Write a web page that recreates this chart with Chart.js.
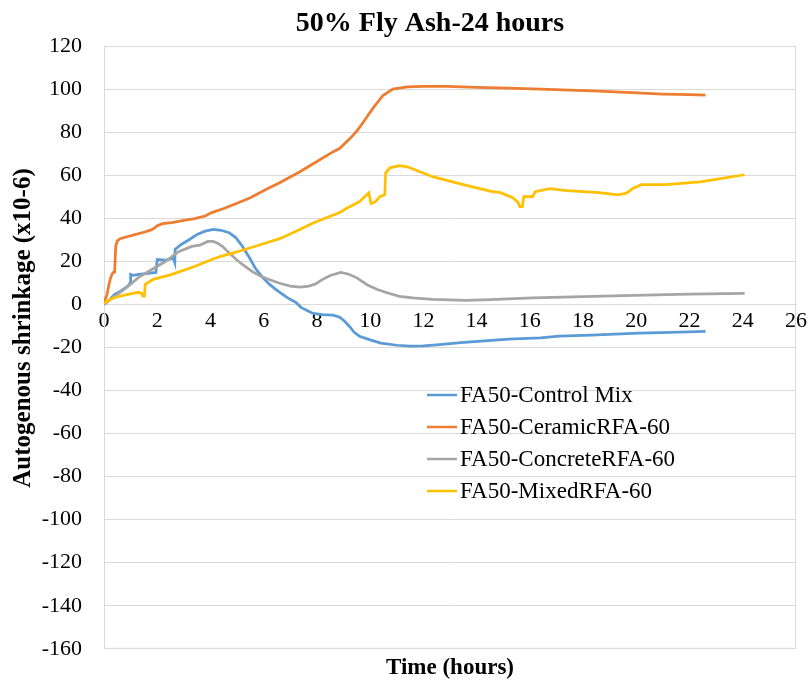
<!DOCTYPE html>
<html>
<head>
<meta charset="utf-8">
<script src="https://cdn.jsdelivr.net/npm/chart.js@4.4.1/dist/chart.umd.min.js"></script>
<style>
  html, body { margin: 0; padding: 0; background: #fff; }
  #wrap { width: 811px; height: 684px; }
</style>
</head>
<body>
<div id="wrap"><canvas id="chart"></canvas></div>
<script>
const seriesNames = ['FA50-Control Mix', 'FA50-CeramicRFA-60', 'FA50-ConcreteRFA-60', 'FA50-MixedRFA-60'];
const seriesColors = ['#5B9BD5', '#ED7D31', '#A5A5A5', '#FFC000'];

// time (hours) and shrinkage (x10-6)
const controlTime = [0, 0.2, 0.4, 0.6, 0.9, 1.0, 1.0, 1.1, 1.3, 1.65, 1.95, 2.0, 2.3, 2.6, 2.66, 2.67, 2.9, 3.2, 3.5, 3.8, 4.1, 4.4, 4.7, 4.95, 5.2, 5.45, 5.7, 6.0, 6.2, 6.5, 6.9, 7.2, 7.4, 7.65, 7.85, 8.2, 8.6, 8.86, 9.05, 9.24, 9.4, 9.6, 10.0, 10.4, 11.0, 11.5, 12.0, 12.5, 13.4, 14.3, 15.2, 16.4, 17.1, 18.3, 19.2, 20.1, 21.3, 22.6];
const controlVal = [0, 2, 4.6, 6, 8.5, 10.2, 13.9, 13.5, 13.9, 14.4, 14.8, 20.8, 20.5, 21.5, 19.4, 25.5, 27.8, 30, 32.5, 34, 34.8, 34.4, 33.3, 31, 27, 22, 16.5, 12, 9.5, 6.5, 3, 1, -1.4, -3, -4.2, -4.8, -5, -6, -8, -10.5, -13, -14.8, -16.5, -18, -19, -19.4, -19.3, -18.8, -17.8, -17, -16.2, -15.6, -14.8, -14.3, -13.8, -13.4, -13, -12.5];

const ceramicTime = [0, 0.1, 0.23, 0.3, 0.36, 0.4, 0.44, 0.5, 0.6, 0.9, 1.16, 1.5, 1.8, 1.9, 2.0, 2.2, 2.55, 3.0, 3.4, 3.8, 4.05, 4.5, 5.0, 5.5, 6.1, 6.6, 7.36, 7.86, 8.6, 8.86, 9.24, 9.5, 9.8, 10.1, 10.48, 10.85, 11.4, 12.0, 12.9, 14.0, 15.2, 16.4, 17.5, 18.6, 20.0, 21.0, 22.0, 22.6];
const ceramicVal = [1, 4, 11.6, 14, 15, 15, 27, 29.5, 30.5, 31.5, 32.4, 33.5, 34.7, 35.5, 36.5, 37.5, 38, 39, 39.8, 41, 42.6, 44.5, 47, 49.5, 53.5, 56.5, 61.6, 65.3, 70.8, 72.5, 77, 80.5, 85.6, 91, 97, 100, 101, 101.2, 101.2, 100.8, 100.4, 100, 99.5, 99, 98.2, 97.7, 97.4, 97.2];

const concreteTime = [0, 0.4, 0.9, 1.3, 1.8, 2.3, 2.8, 3.3, 3.6, 3.9, 4.1, 4.25, 4.45, 4.65, 5.0, 5.3, 5.6, 5.9, 6.2, 6.6, 7.0, 7.36, 7.7, 7.95, 8.2, 8.5, 8.9, 9.2, 9.5, 9.9, 10.25, 10.6, 11.1, 11.6, 12.35, 13.6, 14.5, 16.1, 18.0, 19.9, 22.0, 24.07];
const concreteVal = [0, 3.7, 8.3, 12.5, 16.2, 19.9, 24.5, 26.9, 27.5, 29.2, 29.2, 28.5, 27, 24.5, 20.5, 17.6, 15, 13, 11.5, 9.8, 8.5, 8, 8.5, 9.5, 11.5, 13.4, 14.8, 14, 12.3, 9, 7, 5.5, 3.7, 3.0, 2.3, 1.9, 2.2, 3.0, 3.6, 4.2, 4.7, 5.1];

const mixedTime = [0, 0.2, 0.4, 0.9, 1.3, 1.42, 1.46, 1.52, 1.55, 1.85, 2.55, 3.4, 4.05, 4.36, 4.9, 5.1, 5.9, 6.6, 7.2, 7.9, 8.86, 9.1, 9.6, 9.88, 9.95, 10.03, 10.2, 10.36, 10.55, 10.58, 10.74, 11.1, 11.4, 11.87, 12.35, 12.6, 13.5, 14.5, 14.9, 15.36, 15.55, 15.62, 15.72, 15.77, 16.1, 16.2, 16.75, 17.4, 18.6, 19.3, 19.6, 19.7, 19.9, 20.2, 21.1, 22.4, 24.07];
const mixedVal = [0.5, 2, 3.2, 4.6, 5.6, 5, 3.8, 3.8, 9.3, 11.6, 13.9, 17.6, 20.8, 22.2, 24, 24.8, 27.8, 30.5, 33.8, 38, 42.6, 44.5, 47.7, 51, 51.8, 46.8, 47.7, 50, 50.9, 61, 63.4, 64.4, 63.9, 61.6, 59.3, 58.5, 55.6, 52.6, 51.9, 49.5, 47.5, 45.4, 45.4, 50, 50, 52.3, 53.7, 52.8, 51.9, 50.9, 51.5, 52.3, 54.1, 55.6, 55.6, 56.9, 60.2];

const xTicks = { min: 0, max: 26, step: 2 };
const yTicks = { min: -160, max: 120, step: 20 };

const seriesTimes = [controlTime, ceramicTime, concreteTime, mixedTime];
const seriesVals = [controlVal, ceramicVal, concreteVal, mixedVal];

const FONT = "'Liberation Serif', 'Times New Roman', serif";
const GRID = '#D9D9D9';

function toPoints(t, v) {
  return t.map((x, i) => ({ x: x, y: v[i] }));
}

// frame round the plot, like the Excel plot area border
const framePlugin = {
  id: 'frame',
  beforeDatasetsDraw(chart) {
    const { ctx, chartArea: a } = chart;
    ctx.save();
    ctx.strokeStyle = GRID;
    ctx.lineWidth = 1;
    ctx.strokeRect(a.left + 0.5, a.top + 0.5, a.right - a.left - 1, a.bottom - a.top - 1);
    ctx.restore();
  }
};

// title, axis titles and the in-plot legend
const textPlugin = {
  id: 'texts',
  afterDraw(chart) {
    const { ctx, chartArea: a } = chart;
    ctx.save();
    ctx.fillStyle = '#000';

    ctx.font = 'bold 28px ' + FONT;
    ctx.textAlign = 'center';
    ctx.textBaseline = 'middle';
    ctx.fillText('50% Fly Ash-24 hours', 430, 24);

    ctx.font = 'bold 23px ' + FONT;
    ctx.fillText('Time (hours)', (a.left + a.right) / 2, 668);

    ctx.font = 'bold 25px ' + FONT;
    ctx.translate(24, 328);
    ctx.rotate(-Math.PI / 2);
    ctx.fillText('Autogenous shrinkage (x10-6)', 0, 0);
    ctx.setTransform(1, 0, 0, 1, 0, 0);

    ctx.font = '23px ' + FONT;
    ctx.textAlign = 'left';
    chart.data.datasets.forEach((ds, i) => {
      const y = 395 + i * 32;
      ctx.strokeStyle = ds.borderColor;
      ctx.lineWidth = 2.5;
      ctx.beginPath();
      ctx.moveTo(427, y);
      ctx.lineTo(457, y);
      ctx.stroke();
      ctx.fillText(ds.label, 460, y + 1);
    });
    ctx.restore();
  }
};

const ctx = document.getElementById('chart').getContext('2d');

new Chart(ctx, {
  type: 'line',
  data: {
    datasets: seriesNames.map((name, i) => ({
      label: name,
      data: toPoints(seriesTimes[i], seriesVals[i]),
      borderColor: seriesColors[i],
      backgroundColor: seriesColors[i],
      borderWidth: 2.75,
      pointRadius: 0,
      tension: 0,
      fill: false,
      order: seriesNames.length - i,
    }))
  },
  options: {
    responsive: true,
    maintainAspectRatio: false,
    animation: false,
    layout: { padding: { top: 46, right: 14, bottom: 33, left: 0 } },
    scales: {
      x: {
        type: 'linear',
        position: { y: 0 },
        min: xTicks.min,
        max: xTicks.max,
        grid: { display: false, drawTicks: false },
        border: { display: true, color: GRID, width: 1 },
        ticks: {
          stepSize: xTicks.step,
          padding: 4,
          color: '#000',
          maxRotation: 0,
          font: { family: FONT, size: 22 },
        },
      },
      y: {
        min: yTicks.min,
        max: yTicks.max,
        grid: { color: GRID, drawTicks: false },
        border: { display: true, color: GRID },
        ticks: {
          stepSize: yTicks.step,
          padding: 22,
          color: '#000',
          font: { family: FONT, size: 22 },
        },
        afterFit(scale) { scale.width = 104; },
      }
    },
    plugins: {
      legend: { display: false },
      tooltip: { enabled: false },
    },
  },
  plugins: [framePlugin, textPlugin],
});
</script>
</body>
</html>
